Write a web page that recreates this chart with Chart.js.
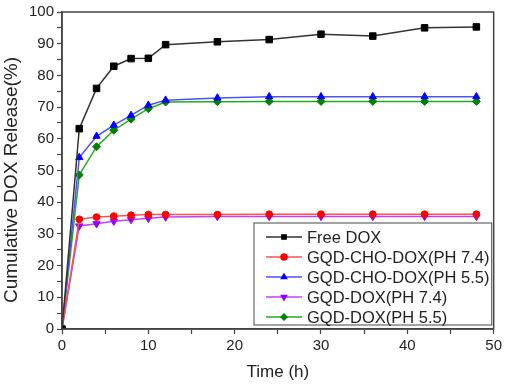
<!DOCTYPE html>
<html>
<head>
<meta charset="utf-8">
<script src="https://cdn.jsdelivr.net/npm/chart.js@4.4.1/dist/chart.umd.min.js"></script>
<style>
  html, body { margin: 0; padding: 0; background: #fff; }
  #wrap { width: 505px; height: 385px; }
</style>
</head>
<body>
<div id="wrap"><canvas id="release-chart"></canvas></div>
<script>
"use strict";

// sampling times (h)
const hours = [0, 2, 4, 6, 8, 10, 12, 18, 24, 30, 36, 42, 48];

// cumulative release (%)
const freeDox   = [0, 63.2, 75.9, 82.9, 85.3, 85.4, 89.7, 90.6, 91.3, 93.0, 92.4, 95.0, 95.3];
const choDox74  = [0, 34.6, 35.3, 35.6, 35.9, 36.1, 36.1, 36.1, 36.2, 36.2, 36.2, 36.2, 36.2];
const choDox55  = [0, 54.1, 60.8, 64.3, 67.4, 70.6, 72.2, 72.9, 73.3, 73.3, 73.3, 73.3, 73.3];
const gqdDox74  = [0, 32.5, 33.2, 34.0, 34.5, 34.9, 35.3, 35.5, 35.5, 35.5, 35.5, 35.5, 35.5];
const gqdDox55  = [0, 48.6, 57.5, 62.7, 66.2, 69.5, 71.6, 71.7, 71.8, 71.8, 71.8, 71.8, 71.8];

const seriesNames = [
  'Free DOX',
  'GQD-CHO-DOX(PH 7.4)',
  'GQD-CHO-DOX(PH 5.5)',
  'GQD-DOX(PH 7.4)',
  'GQD-DOX(PH 5.5)'
];

const xTitle = 'Time (h)';
const yTitle = 'Cumulative DOX Release(%)';

function toPoints(values) {
  return hours.map((h, i) => ({ x: h, y: values[i] }));
}

function series(label, values, lineColor, pointColor, style, radius, rotation) {
  return {
    label,
    data: toPoints(values),
    borderColor: lineColor,
    backgroundColor: pointColor,
    pointBorderColor: pointColor,
    pointBackgroundColor: pointColor,
    pointStyle: style,
    pointRadius: radius,
    pointRotation: rotation || 0,
    pointBorderWidth: 1,
    borderWidth: 1.5,
    tension: 0
  };
}

const datasets = [
  series(seriesNames[0], freeDox,  '#333333', '#000000', 'rect', 4.6),
  series(seriesNames[1], choDox74, '#ff5050', '#ff0000', 'circle', 3.4),
  series(seriesNames[2], choDox55, '#5050ff', '#0000ff', 'triangle', 4.2),
  series(seriesNames[3], gqdDox74, '#c040ff', '#9400ff', 'triangle', 4.2, 180),
  series(seriesNames[4], gqdDox55, '#22aa22', '#008000', 'rectRot', 4)
];

const axisColor = '#444';
const textColor = '#222';
const fontFamily = '"Liberation Sans", Arial, sans-serif';

// box round the whole plot
const frame = {
  id: 'frame',
  afterDatasetsDraw(chart) {
    const { ctx, chartArea: a } = chart;
    ctx.save();
    ctx.strokeStyle = axisColor;
    ctx.lineWidth = 1.5;
    ctx.strokeRect(a.left, a.top, a.right - a.left, a.bottom - a.top);
    ctx.restore();
  }
};

// y title sits a little below the plot centre in the original
const sideTitle = {
  id: 'sideTitle',
  afterDraw(chart) {
    const { ctx } = chart;
    ctx.save();
    ctx.translate(11.5, 180);
    ctx.rotate(-Math.PI / 2);
    ctx.font = '19px ' + fontFamily;
    ctx.fillStyle = textColor;
    ctx.textAlign = 'center';
    ctx.textBaseline = 'middle';
    ctx.fillText(yTitle, 0, 0);
    ctx.restore();
  }
};

// framed legend in the lower right of the plot
const boxLegend = {
  id: 'boxLegend',
  afterDraw(chart) {
    const { ctx, chartArea: a } = chart;
    const left = 254, top = 223, right = a.right - 2, bottom = 325;
    ctx.save();
    ctx.fillStyle = '#fff';
    ctx.fillRect(left, top, right - left, bottom - top);
    ctx.strokeStyle = '#666';
    ctx.lineWidth = 1.2;
    ctx.strokeRect(left, top, right - left, bottom - top);
    ctx.font = '16.5px ' + fontFamily;
    ctx.textBaseline = 'middle';
    chart.data.datasets.forEach((ds, i) => {
      const y = 237 + i * 20;
      ctx.strokeStyle = ds.borderColor;
      ctx.lineWidth = 1.5;
      ctx.beginPath();
      ctx.moveTo(266, y);
      ctx.lineTo(302, y);
      ctx.stroke();
      ctx.fillStyle = ds.pointBackgroundColor;
      ctx.strokeStyle = ds.pointBorderColor;
      Chart.helpers.drawPoint(ctx, {
        pointStyle: ds.pointStyle,
        rotation: ds.pointRotation,
        radius: 3,
        borderWidth: 1
      }, 284, y);
      ctx.fillStyle = textColor;
      ctx.fillText(ds.label, 307, y + 1);
    });
    ctx.restore();
  }
};

new Chart(document.getElementById('release-chart'), {
  type: 'line',
  data: { datasets },
  plugins: [frame, sideTitle, boxLegend],
  options: {
    responsive: true,
    maintainAspectRatio: false,
    animation: false,
    layout: { padding: { top: 8, right: 10, left: 0, bottom: 0 } },
    plugins: {
      legend: { display: false },
      tooltip: { enabled: false }
    },
    scales: {
      x: {
        type: 'linear',
        min: 0,
        max: 50,
        afterFit(scale) { scale.height = 56; },
        ticks: {
          stepSize: 5,
          autoSkip: false,
          maxRotation: 0,
          padding: 3,
          color: textColor,
          font: { family: fontFamily, size: 15 },
          callback: v => (v % 10 === 0 ? v : '')
        },
        grid: { drawOnChartArea: false, drawTicks: true, tickLength: 5, tickColor: axisColor, tickWidth: 1.2 },
        border: { color: axisColor, width: 1.5 },
        title: {
          display: true,
          text: xTitle,
          color: textColor,
          font: { family: fontFamily, size: 17 },
          padding: { top: 0, bottom: 2 }
        }
      },
      y: {
        min: 0,
        max: 100,
        afterFit(scale) { scale.width = 62; },
        ticks: {
          stepSize: 5,
          autoSkip: false,
          padding: 3,
          color: textColor,
          font: { family: fontFamily, size: 15 },
          callback: v => (v % 10 === 0 ? v : '')
        },
        grid: { drawOnChartArea: false, drawTicks: true, tickLength: 5, tickColor: axisColor, tickWidth: 1.2 },
        border: { color: axisColor, width: 1.5 }
      }
    }
  }
});
</script>
</body>
</html>
